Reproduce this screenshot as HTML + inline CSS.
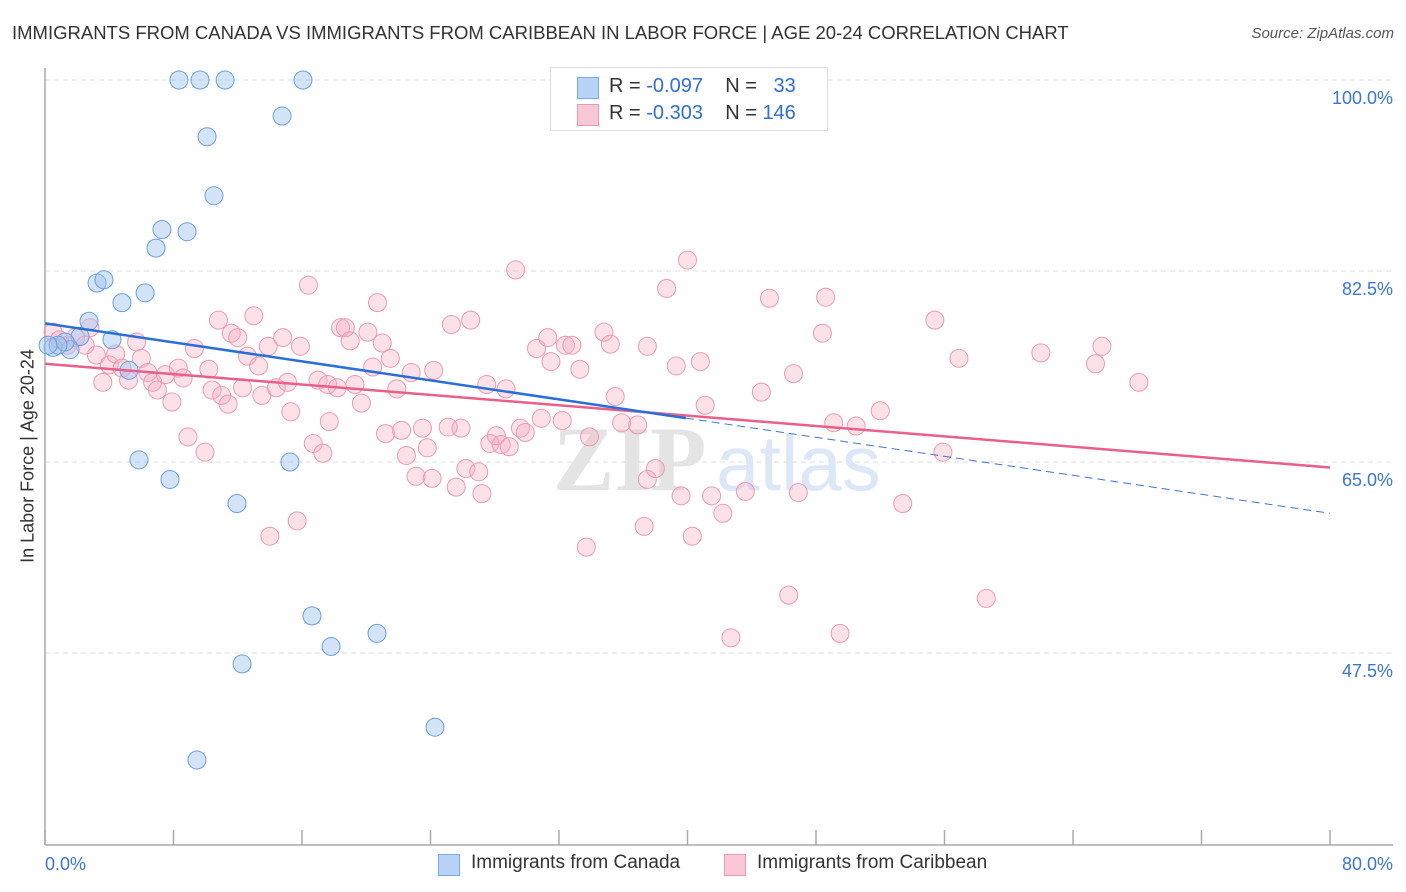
<!DOCTYPE html>
<html><head><meta charset="utf-8"><style>
body{margin:0;background:#fff;font-family:"Liberation Sans",sans-serif;}
#wrap{position:relative;width:1406px;height:892px;overflow:hidden}
.t{position:absolute;white-space:nowrap}
</style></head><body>
<div id="wrap">
<div class="t" style="left:12px;top:22px;font-size:18.5px;color:#333">IMMIGRANTS FROM CANADA VS IMMIGRANTS FROM CARIBBEAN IN LABOR FORCE | AGE 20-24 CORRELATION CHART</div>
<div class="t" style="right:12px;top:25px;font-size:15px;color:#555;font-style:italic">Source: ZipAtlas.com</div>
<svg id="svg" width="1406" height="892" style="position:absolute;left:0;top:0"></svg>
<div class="t" style="left:28px;top:456px;font-size:18px;color:#333;transform:translate(-50%,-50%) rotate(-90deg)">In Labor Force | Age 20-24</div>
<div style="position:absolute;left:550px;top:67px;width:276px;height:62px;border:1px solid #ddd;background:#fff;font-size:20px;color:#333">
 <div style="position:absolute;left:26px;top:9px;width:20px;height:20px;background:#b8d3f5;border:1px solid #7aaae6"></div>
 <div class="t" style="left:58px;top:7px">R = <span style="color:#2f6fd6">-0.097</span>&nbsp;&nbsp;&nbsp; N = &nbsp;&nbsp;<span style="color:#2f6fd6">33</span></div>
 <div style="position:absolute;left:26px;top:36px;width:20px;height:20px;background:#f9c7d5;border:1px solid #ec9ab2"></div>
 <div class="t" style="left:58px;top:34px">R = <span style="color:#2f6fd6">-0.303</span>&nbsp;&nbsp;&nbsp; N = <span style="color:#2f6fd6">146</span></div>
</div>
<div style="position:absolute;left:438px;top:852px;font-size:19px;color:#333">
 <div style="position:absolute;left:0;top:2px;width:20px;height:20px;background:#b8d3f5;border:1px solid #7aaae6"></div>
 <div class="t" style="left:33px;top:0">Immigrants from Canada</div>
 <div style="position:absolute;left:286px;top:2px;width:20px;height:20px;background:#f9c7d5;border:1px solid #ec9ab2"></div>
 <div class="t" style="left:319px;top:0">Immigrants from Caribbean</div>
</div>
</div>
<script>
const yTicks=[100,82.5,65,47.5];
const xTickLabels=["0.0%","80.0%"];
const canadaX=[8.34,9.65,11.21,16.06,14.76,10.09,10.52,7.28,8.84,6.91,3.24,3.67,6.23,4.79,2.74,4.17,2.18,1.56,0.5,1.25,0.81,5.23,5.85,7.78,11.95,15.25,16.62,17.81,20.67,12.27,24.28,9.46,0.19];
const canadaY=[100,100,100,100,96.7,94.8,89.4,86.3,86.1,84.6,81.4,81.7,80.5,79.6,77.9,76.2,76.5,75.3,75.5,76.0,75.7,73.4,65.2,63.4,61.2,65.0,50.9,48.1,49.3,46.5,40.7,37.7,75.7];
const caribX=[0.5,0.9,1.4,1.9,2.8,2.5,3.2,3.6,4.0,4.4,4.8,5.2,5.7,6.0,6.4,6.7,7.0,7.5,7.9,8.3,8.6,8.9,9.3,9.96,10.2,10.4,10.8,11.0,11.4,11.6,12.0,12.3,12.6,13.0,13.3,13.5,13.9,14.0,14.4,14.8,15.1,15.3,15.7,15.9,16.4,16.7,17.0,17.3,17.6,17.7,18.2,18.4,18.7,19.0,19.3,19.7,20.1,20.4,20.7,21.0,21.2,21.5,21.9,22.2,22.5,22.8,23.1,23.5,23.8,24.1,24.2,25.1,25.3,25.6,25.9,26.2,26.5,27.0,27.2,27.5,27.7,28.1,28.4,28.7,28.9,29.3,29.6,29.9,30.6,30.9,31.3,31.5,32.2,32.4,32.8,33.3,33.7,33.9,34.8,35.2,35.5,35.9,36.9,37.3,37.5,38.0,37.5,38.7,39.3,39.6,40.0,40.3,40.8,41.1,41.5,42.2,42.7,43.6,44.6,45.1,46.3,46.6,46.9,48.4,48.6,49.1,49.5,50.5,52.0,53.4,55.4,55.9,56.9,58.6,62.0,65.4,65.8,68.1];
const caribY=[76.9,76.2,75.7,76.4,77.3,75.7,74.8,72.3,73.9,74.9,73.6,72.5,76.0,74.5,73.2,72.3,71.6,73.0,70.5,73.6,72.7,67.3,75.4,65.9,73.5,71.6,78.0,71.1,70.3,76.8,76.4,71.8,74.7,78.4,73.8,71.1,75.6,58.2,71.8,76.4,72.3,69.6,59.6,75.6,81.2,66.7,72.5,65.8,72.1,68.7,71.8,77.3,77.3,76.1,72.1,70.4,76.9,73.7,79.6,75.9,67.6,74.5,71.7,67.9,65.6,73.2,63.7,68.1,66.3,63.5,73.4,68.2,77.6,62.7,68.1,64.4,78.0,64.1,62.1,72.1,66.7,67.4,66.6,71.7,66.4,82.6,68.1,67.7,75.4,69.0,76.4,74.2,68.8,75.7,75.7,73.5,57.2,67.3,76.9,75.8,71.0,68.6,68.4,59.1,63.4,64.4,75.6,80.9,73.8,61.9,83.5,58.2,74.2,70.2,61.9,60.3,48.9,62.3,71.4,80.0,52.8,73.1,62.2,76.8,80.1,68.6,49.3,68.3,69.7,61.2,78.0,65.9,74.5,52.5,75.0,74.0,75.6,72.3];
const canadaTrend=[77.7,60.3]; // y at x=0 and x=80
const caribTrend=[74.0,64.5];
const canadaSolidEnd=39.9;

const svg=document.getElementById('svg');
const NS='http://www.w3.org/2000/svg';
const X=v=>45+v/80*1285;
const Y=v=>80+(100-v)/17.5*191;
function mk(tag,attrs){const e=document.createElementNS(NS,tag);for(const k in attrs)e.setAttribute(k,attrs[k]);svg.appendChild(e);return e;}
// gridlines & labels
yTicks.forEach(v=>{
  const g=mk('line',{x1:45,x2:1393,y1:Y(v),y2:Y(v),stroke:'#ddd','stroke-dasharray':'5,4'});
  
  
  const t=mk('text',{x:1393,y:Y(v)+24,'text-anchor':'end','font-size':18,fill:'#3a76d4','font-family':'Liberation Sans, sans-serif'});
  t.textContent=(v===100?'100.0':v.toFixed(1))+'%';
  
  
});
// axes
let a=mk('line',{x1:45,x2:45,y1:68,y2:845,stroke:'#aaa','stroke-width':1.5});


a=mk('line',{x1:45,x2:1393,y1:845,y2:845,stroke:'#aaa','stroke-width':1.5});


for(let i=0;i<=10;i++){
  const tk=mk('line',{x1:X(i*8),x2:X(i*8),y1:830,y2:845,stroke:'#aaa','stroke-width':1.5});
  
  
}
[[0,'start',45],[1,'end',1393]].forEach(([i,anc,x])=>{
  const t=mk('text',{x:x,y:870,'text-anchor':anc,'font-size':18,fill:'#3a76d4','font-family':'Liberation Sans, sans-serif'});
  t.textContent=xTickLabels[i];
  
  
});
// watermark
let w=mk('text',{x:553,y:490,'font-size':92,fill:'#e4e4e4','font-family':'Liberation Serif, serif','font-weight':'bold'});
w.textContent='ZIP';


w=mk('text',{x:716,y:490,'font-size':78,fill:'#dce8f8','font-family':'Liberation Sans, sans-serif'});
w.textContent='atlas';


// points
caribX.forEach((v,i)=>{
  const c=mk('circle',{cx:X(v),cy:Y(caribY[i]),r:9,fill:'rgba(247,168,192,0.35)',stroke:'#ec9ab2','stroke-width':1});
  
  
});
canadaX.forEach((v,i)=>{
  const c=mk('circle',{cx:X(v),cy:Y(canadaY[i]),r:9,fill:'rgba(160,196,240,0.45)',stroke:'#6a9fe0','stroke-width':1});
  
  
});
// trend lines
const cy=x=>canadaTrend[0]+(canadaTrend[1]-canadaTrend[0])*x/80;
let l=mk('line',{x1:X(canadaSolidEnd),y1:Y(cy(canadaSolidEnd)),x2:X(80),y2:Y(cy(80)),stroke:'#3a76d4','stroke-width':1,'stroke-dasharray':'8,5'});


l=mk('line',{x1:X(0),y1:Y(caribTrend[0]),x2:X(80),y2:Y(caribTrend[1]),stroke:'#e8608a','stroke-width':2.5});


l=mk('line',{x1:X(0),y1:Y(cy(0)),x2:X(canadaSolidEnd),y2:Y(cy(canadaSolidEnd)),stroke:'#2a6fd6','stroke-width':2.5});


</script>
</body></html>
